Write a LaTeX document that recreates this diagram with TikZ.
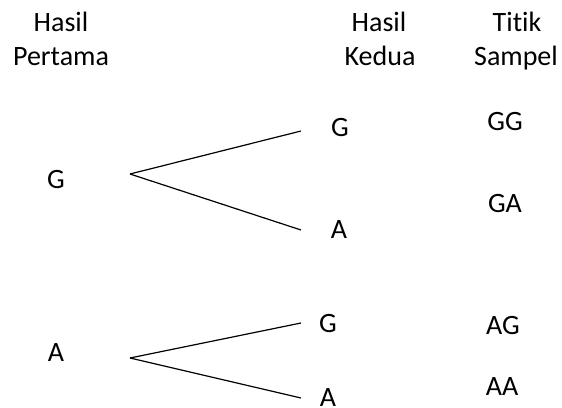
\documentclass[tikz,border=0pt]{standalone}
\usepackage{fontspec}
\setmainfont{Carlito}[Ligatures=NoCommon]
\begin{document}
\begin{tikzpicture}[line join=bevel,
  every node/.style={inner sep=0pt,anchor=base,font=\fontsize{28bp}{34bp}\selectfont}]
\useasboundingbox (0bp,0bp) rectangle (562bp,408bp);
%%
\node (head_1a) at (61bp,376bp) [draw,draw=none] {Hasil};
  \node (head_1b) at (61bp,342bp) [draw,draw=none] {Pertama};
  \node (head_2a) at (379bp,376bp) [draw,draw=none] {Hasil};
  \node (head_2b) at (380bp,342bp) [draw,draw=none] {Kedua};
  \node (head_3a) at (517bp,376bp) [draw,draw=none] {Titik};
  \node (head_3b) at (516bp,342bp) [draw,draw=none] {Sampel};
  \node (node_G) at (56bp,219bp) [draw,draw=none] {G};
  \node (node_GG) at (340bp,271bp) [draw,draw=none] {G};
  \node (node_GA) at (339bp,169bp) [draw,draw=none] {A};
  \node (node_A) at (56bp,46bp) [draw,draw=none] {A};
  \node (node_AG) at (328bp,75bp) [draw,draw=none] {G};
  \node (node_AA) at (328bp,2bp) [draw,draw=none] {A};
  \node (sample_GG) at (505bp,277bp) [draw,draw=none] {GG};
  \node (sample_GA) at (505bp,195bp) [draw,draw=none] {GA};
  \node (sample_AG) at (503bp,73bp) [draw,draw=none] {AG};
  \node (sample_AA) at (502bp,13bp) [draw,draw=none] {AA};
  \coordinate (fork_G) at (130bp,234bp);
  \coordinate (end_GG) at (301bp,277bp);
  \coordinate (end_GA) at (301bp,178bp);
  \coordinate (fork_A) at (130bp,50bp);
  \coordinate (end_AG) at (301bp,85bp);
  \coordinate (end_AA) at (301bp,10bp);
  \draw [black,line width=1.2bp] (fork_G) -- (end_GG);
  \draw [black,line width=1.2bp] (fork_G) -- (end_GA);
  \draw [black,line width=1.2bp] (fork_A) -- (end_AG);
  \draw [black,line width=1.2bp] (fork_A) -- (end_AA);
%
\end{tikzpicture}
\end{document}
